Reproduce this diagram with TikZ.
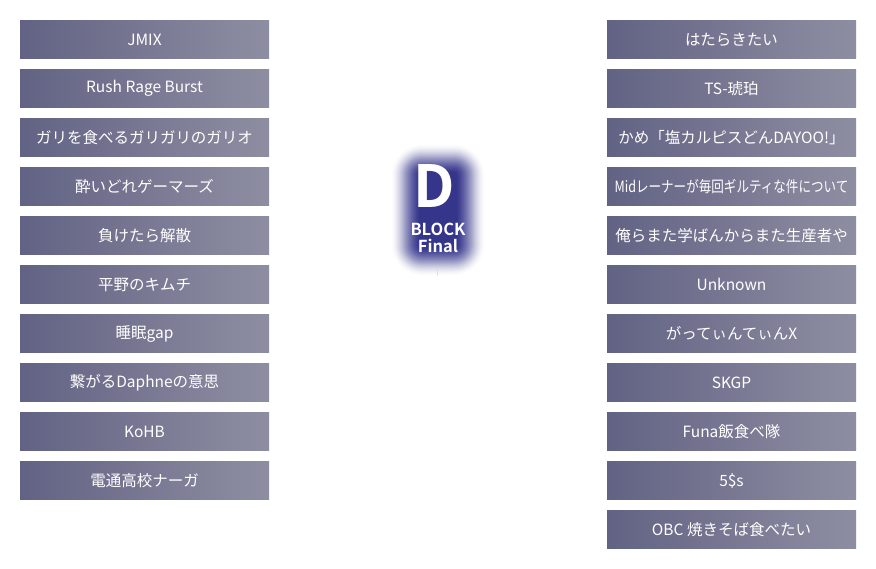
\documentclass[tikz,border=0pt]{standalone}
\usepackage{fontspec}
\setmainfont{Noto Sans CJK JP}[BoldFont={Noto Sans CJK JP Bold}]
\definecolor{boxl}{RGB}{98,98,132}
\definecolor{boxr}{RGB}{142,142,162}
\definecolor{glow}{RGB}{28,28,128}
\begin{document}
\begin{tikzpicture}[x=1pt, y=-1pt,
  teambox/.style={left color=boxl, right color=boxr, text=white, minimum width=249pt, minimum height=37.5pt, inner sep=0pt, font=\fontsize{15.5}{18}\selectfont},
  logotext/.style={text=white, inner sep=0pt, font=\bfseries\fontsize{16.5}{18}\selectfont}]
  \useasboundingbox[fill=white] (0,0) rectangle (876,568);
  % left block
  \foreach \n/\t [count=\i from 0] in {l1/JMIX, l2/Rush Rage Burst, l3/ガリを食べるガリガリのガリオ, l4/酔いどれゲーマーズ, l5/負けたら解散, l6/平野のキムチ, l7/睡眠gap, l8/繋がるDaphneの意思, l9/KoHB, l10/電通高校ナーガ}
    \node[teambox] (\n) at (144.5,39.5+49*\i) {\t};
  % right block
  \foreach \n/\t [count=\i from 0] in {r1/はたらきたい, r2/TS-琥珀, r3/かめ「塩カルピスどんDAYOO!」, r4/{\scalebox{0.81}[1]{Midレーナーが毎回ギルティな件について}}, r5/俺らまた学ばんからまた生産者や, r6/Unknown, r7/がってぃんてぃんX, r8/SKGP, r9/Funa飯食べ隊, r10/5\$s, r11/OBC 焼きそば食べたい}
    \node[teambox] (\n) at (731.5,39.5+49*\i) {\t};
  % glow behind the logo
  \foreach \r [evaluate=\r as \op using 0.13-0.0045*\r] in {28,27,...,0}
    \fill[glow, opacity=\op, rounded corners=\r pt+3pt] (419-\r,172-\r) rectangle (457+\r,248+\r);
  \node[logotext, font=\bfseries\fontsize{58}{58}\selectfont] (dlet) at (434,186.5) {D};
  \node[logotext] (blk) at (438,229) {BLOCK};
  \node[logotext] (fin) at (438,245.5) {Final};
  \draw[gray!25] (437,269) -- (437,276);
\end{tikzpicture}
\end{document}
